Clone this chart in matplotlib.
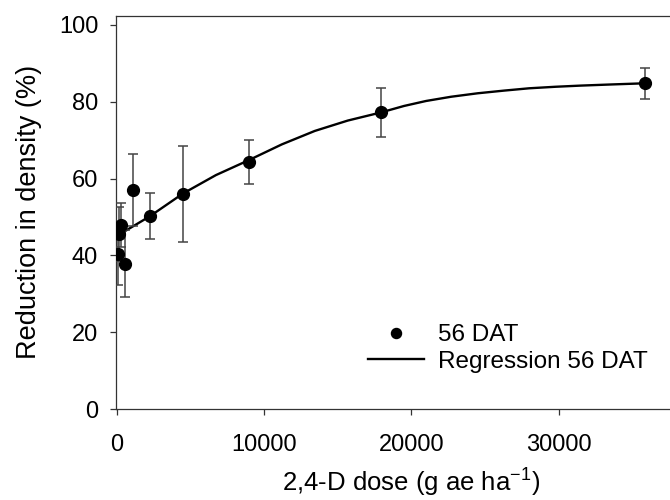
import matplotlib
matplotlib.use("Agg")
import matplotlib.pyplot as plt

plt.rcParams['font.family'] = ['Liberation Sans', 'DejaVu Sans']
plt.rcParams['mathtext.fontset'] = 'custom'
plt.rcParams['mathtext.rm'] = 'Liberation Sans'
plt.rcParams['mathtext.default'] = 'regular'

# Observed data (56 DAT)
dose = [70, 140, 280, 560, 1120, 2240, 4480, 8960, 17920, 35840]
reduction = [40.4, 45.6, 47.9, 37.8, 57.0, 50.2, 56.0, 64.4, 77.2, 84.8]
reduction_err = [8.2, 7.0, 5.8, 8.7, 9.3, 6.0, 12.5, 5.7, 6.4, 4.0]

# Regression curve
curve_dose = [70, 450, 2240, 4480, 6720, 8960, 11200, 13440, 15680, 17920,
              19500, 21000, 22700, 24500, 26300, 28000, 29800, 31500, 33600, 35840]
curve_reduction = [45.2, 46.1, 50.2, 56.1, 60.9, 64.8, 68.9, 72.4, 75.1, 77.2,
                   78.9, 80.2, 81.3, 82.2, 82.9, 83.5, 83.9, 84.2, 84.5, 84.8]

xticks = [0, 10000, 20000, 30000]
yticks = [0, 20, 40, 60, 80, 100]

fig = plt.figure(figsize=(6.7, 5.0), dpi=100)
ax = fig.add_axes([115.5 / 670, (500 - 409) / 500, 590.3 / 670, (409 - 15.7) / 500])

ax.plot(curve_dose, curve_reduction, color='black', lw=1.7, label='Regression 56 DAT',
        zorder=2, solid_joinstyle='round')
ax.errorbar(dose, reduction, yerr=reduction_err, fmt='none', ecolor='#444444',
            elinewidth=1.1, capsize=3.8, capthick=1.1, zorder=3)
ax.plot(dose, reduction, 'o', color='black', ms=8.5, ls='none', label='56 DAT', zorder=4)

ax.set_xlim(-102, 40000)
ax.set_ylim(0, 102.4)
ax.set_xticks(xticks)
ax.set_yticks(yticks)
ax.tick_params(direction='out', length=4, width=0.9, color='#333333', labelsize=17)
ax.tick_params(axis='x', pad=14)
ax.tick_params(axis='y', pad=8.5)
for s in ['left', 'bottom', 'top', 'right']:
    ax.spines[s].set_color('#333333')
    ax.spines[s].set_linewidth(0.9)

ax.set_xlabel('2,4-D dose (g ae ha$^{-1}$)', fontsize=18.5, labelpad=8)
ax.set_ylabel('Reduction in density (%)', fontsize=19.5, labelpad=12)

h, l = ax.get_legend_handles_labels()
order = [1, 0]
ax.legend([h[i] for i in order], [l[i] for i in order], frameon=False, fontsize=17.5,
          loc='center left', bbox_to_anchor=((356 - 115.5) / 590.3, (409 - 348.5) / 393.3),
          handlelength=2.3, handletextpad=0.58, labelspacing=0.2, borderpad=0,
          markerscale=0.85)

fig.savefig('out.png', dpi=100)
